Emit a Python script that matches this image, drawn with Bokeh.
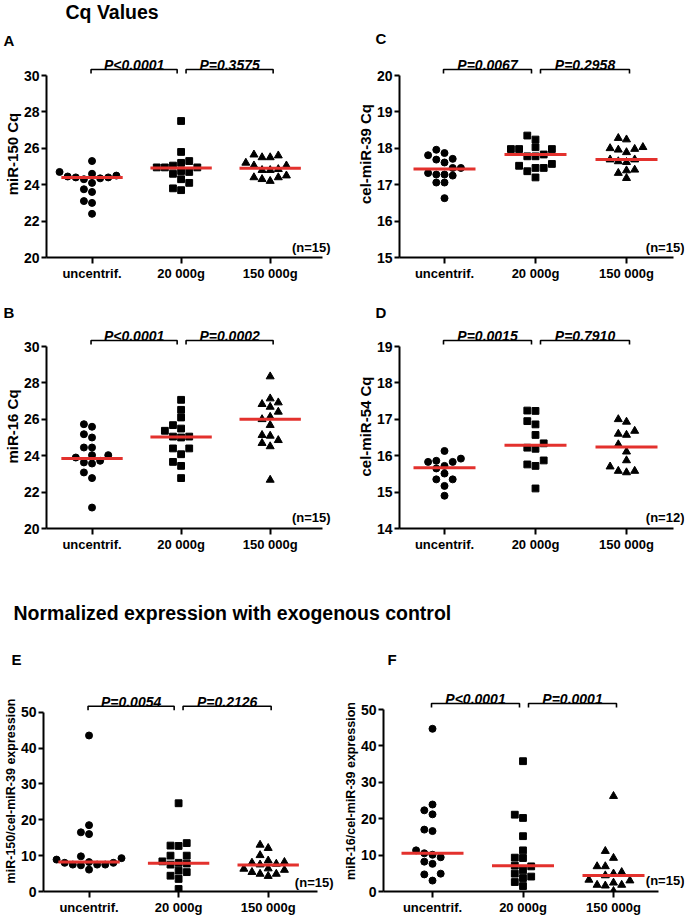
from bokeh.plotting import figure
from bokeh.layouts import column, row
from bokeh.models import Range1d, FixedTicker
from bokeh.core.properties import value
from bokeh.embed import file_html
from bokeh.resources import INLINE

FONT = "Liberation Sans"
RED = "#E3312D"

categories = ["uncentrif.", "20 000g", "150 000g"]
markers = ["circle", "square", "triangle"]
marker_sizes = [7.0, 6.8, 8.0]
section_titles = ["Cq Values", "Normalized expression with exogenous control"]
panel_letters = ["A", "B", "C", "D", "E", "F"]

# ---- Panel A : miR-150 Cq ----
a_unc = [25.3, 24.7, 24.6, 24.45, 24.4, 24.3, 24.1, 24.35, 24.4, 24.5, 23.75, 23.6, 23.1, 23.0, 22.4]
a_20k = [27.5, 25.8, 25.2, 25.3, 25.05, 24.75, 24.95, 24.95, 24.95, 24.7, 24.6, 24.3, 24.1, 23.8, 23.7]
a_150k = [25.2, 25.6, 25.5, 25.5, 25.65, 25.05, 25.05, 24.8, 24.8, 24.85, 24.5, 24.2, 24.4, 24.3, 24.4]
a_median = [24.4, 24.92, 24.9]
a_p = ["P<0.0001", "P=0.3575"]

# ---- Panel C : cel-miR-39 Cq ----
c_unc = [17.81, 17.87, 17.96, 17.69, 17.71, 17.61, 17.46, 17.46, 17.28, 17.32, 17.25, 17.28, 17.06, 17.06, 16.63]
c_20k = [18.35, 18.24, 17.98, 18.03, 17.98, 17.98, 17.83, 17.78, 17.78, 17.57, 17.52, 17.46, 17.46, 17.37, 17.2]
c_150k = [18.28, 18.24, 18.03, 17.98, 17.89, 17.96, 18.0, 17.64, 17.69, 17.62, 17.69, 17.41, 17.39, 17.32, 17.18]
c_median = [17.43, 17.83, 17.69]
c_p = ["P=0.0067", "P=0.2958"]

# ---- Panel B : miR-16 Cq ----
b_unc = [25.18, 25.59, 25.73, 25.0, 24.45, 24.45, 23.9, 24.03, 24.03, 23.63, 23.72, 23.57, 23.08, 22.77, 21.15]
b_20k = [27.07, 26.52, 26.1, 25.68, 25.49, 25.37, 25.0, 25.05, 25.05, 24.4, 24.4, 24.08, 23.66, 23.44, 22.77]
b_150k = [28.35, 27.14, 26.83, 26.92, 26.68, 26.41, 26.0, 26.13, 25.68, 25.13, 25.09, 24.85, 24.69, 24.51, 22.67]
b_median = [23.85, 25.03, 26.0]
b_p = ["P<0.0001", "P=0.0002"]

# ---- Panel D : cel-miR-54 Cq ----
d_unc = [15.92, 16.13, 15.83, 15.83, 15.86, 15.65, 15.51, 15.35, 15.35, 15.17, 14.9, 15.72]
d_20k = [17.24, 17.23, 16.95, 16.86, 16.57, 16.34, 16.19, 16.22, 15.76, 15.72, 15.87, 15.1]
d_150k = [16.93, 17.0, 16.6, 16.57, 16.68, 16.31, 16.11, 15.87, 15.7, 15.58, 15.54, 15.58]
d_median = [15.67, 16.29, 16.24]
d_p = ["P=0.0015", "P=0.7910"]

# ---- Panel E : miR-150/cel-miR-39 expression ----
e_unc = [43.5, 18.5, 16.0, 16.5, 9.3, 9.8, 8.9, 8.2, 7.5, 7.5, 8.0, 7.3, 7.5, 8.0, 6.1]
e_20k = [24.6, 13.5, 12.7, 12.8, 10.0, 10.0, 8.4, 7.5, 8.0, 7.8, 5.8, 5.4, 4.4, 3.5, 0.7]
e_150k = [13.0, 12.1, 10.1, 8.2, 7.7, 7.5, 8.0, 8.6, 6.4, 6.0, 4.9, 4.3, 4.9, 5.4, 6.3]
e_median = [8.2, 7.9, 7.4]
e_p = ["P=0.0054", "P=0.2126"]

# ---- Panel F : miR-16/cel-miR-39 expression ----
f_unc = [44.7, 23.9, 21.2, 22.3, 17.0, 16.6, 11.3, 10.1, 10.5, 9.4, 8.2, 7.6, 4.9, 4.7, 3.0]
f_20k = [35.8, 21.1, 20.2, 15.2, 11.3, 9.2, 9.3, 7.1, 6.9, 4.9, 3.7, 4.1, 5.8, 2.6, 1.5]
f_150k = [26.2, 11.1, 9.2, 6.9, 6.9, 5.3, 4.9, 4.4, 2.4, 3.2, 3.0, 1.6, 1.8, 1.8, 0.1]
f_median = [10.5, 7.1, 4.4]
f_p = ["P<0.0001", "P=0.0001"]

AXIS_H = 182.0  # pixel height of the y axis (bounds)
PAGE_W = 685


def swarm(vals, ppu_y, step_px=8.2, min_d=7.6):
    order = sorted(range(len(vals)), key=lambda i: vals[i])
    placed = []
    offs = [0.0] * len(vals)
    cands = [0]
    for m in range(1, 15):
        cands += [-m, m]
    for i in order:
        y = vals[i] * ppu_y
        xo = 0.0
        for c in cands:
            xo = c * step_px
            if all((xo - px) ** 2 + (y - py) ** 2 >= min_d ** 2 for px, py in placed):
                break
        placed.append((xo, y))
        offs[i] = xo
    return offs


def make_panel(box, cats_px, axis_end_px, n_right_px, n_above,
               groups, medians, pvals, ylabel, ylabel_size, y0, y1, ystep, n):
    W, H, L, R, T, B = box
    fw, fh = W - L - R, H - T - B
    ppu_x = (cats_px[2] - cats_px[0]) / 2.0
    ppu_y = AXIS_H / (y1 - y0)
    x_start = 1 - (cats_px[0] - L) / ppu_x
    x_end = x_start + fw / ppu_x
    y_end = y0 + fh / ppu_y

    def X(px):
        return x_start + (px - L) / ppu_x

    def Y(px_above):
        return y0 + px_above / ppu_y

    p = figure(width=W, height=H, x_range=Range1d(x_start, x_end), y_range=Range1d(y0, y_end),
               min_border_left=L, min_border_right=R, min_border_top=T, min_border_bottom=B,
               toolbar_location=None, output_backend="svg", title=None)
    p.outline_line_color = None
    p.grid.visible = False

    p.xaxis.ticker = FixedTicker(ticks=[1, 2, 3])
    p.xaxis.major_label_overrides = {i + 1: c for i, c in enumerate(categories)}
    p.xaxis.bounds = (x_start, X(axis_end_px))
    p.yaxis.ticker = FixedTicker(ticks=list(range(y0, y1 + 1, ystep)))
    p.yaxis.bounds = (y0, y1)
    for ax in (p.xaxis, p.yaxis):
        ax.axis_line_width = 2
        ax.axis_line_color = "black"
        ax.major_tick_line_width = 2
        ax.major_tick_line_color = "black"
        ax.minor_tick_line_color = None
        ax.major_tick_in = 0
        ax.major_label_text_font = FONT
        ax.major_label_text_font_style = "bold"
        ax.major_label_text_color = "black"
    p.xaxis.major_tick_out = 6
    p.xaxis.major_label_standoff = 2
    p.xaxis.major_label_text_font_size = "13px"
    p.yaxis.major_tick_out = 5
    p.yaxis.major_label_standoff = 2
    p.yaxis.major_label_text_font_size = "14px"
    p.yaxis.axis_label = ylabel
    p.yaxis.axis_label_text_font = FONT
    p.yaxis.axis_label_text_font_style = "bold"
    p.yaxis.axis_label_text_font_size = ylabel_size
    p.yaxis.axis_label_standoff = 0
    p.yaxis.axis_label_text_color = "black"

    for gi, vals in enumerate(groups):
        offs = swarm(vals, ppu_y)
        xs = [gi + 1 + o / ppu_x for o in offs]
        p.scatter(xs, vals, marker=markers[gi], size=marker_sizes[gi], color="black")

    hw = 31.0 / ppu_x
    p.segment(x0=[i + 1 - hw for i in range(3)], y0=medians,
              x1=[i + 1 + hw for i in range(3)], y1=medians, line_color=RED, line_width=3)

    top = Y(AXIS_H + 6)
    low = Y(AXIS_H + 2)
    b1 = (X(cats_px[0] - 1), X(cats_px[1] - 4))
    b2 = (X(cats_px[1] + 5), X(cats_px[2] + 3))
    p.multi_line(xs=[[b1[0], b1[0], b1[1], b1[1]], [b2[0], b2[0], b2[1], b2[1]]],
                 ys=[[low, top, top, low], [low, top, top, low]], line_color="black", line_width=1.6)
    p.text(x=[(b1[0] + b1[1]) / 2, (b2[0] + b2[1]) / 2], y=[Y(AXIS_H + 10.5)] * 2, text=pvals,
           text_align="center", text_baseline="alphabetic", text_font=value(FONT),
           text_font_size="14px", text_font_style="bold italic", text_color="black")

    p.text(x=[X(n_right_px)], y=[Y(n_above)], text=["(n=%d)" % n], text_align="right",
           text_baseline="middle", text_font=value(FONT), text_font_size="13px",
           text_font_style="bold", text_color="black")
    return p


def make_header(H, items):
    p = figure(width=PAGE_W, height=H, x_range=Range1d(0, PAGE_W), y_range=Range1d(H, 0),
               min_border=0, toolbar_location=None, output_backend="svg", title=None,
               x_axis_location=None, y_axis_location=None)
    p.outline_line_color = None
    p.grid.visible = False
    for txt, x, y, size in items:
        p.text(x=[x], y=[y], text=[txt], text_align="left", text_baseline="middle",
               text_font=value(FONT), text_font_size=size, text_font_style="bold", text_color="black")
    return p


h1 = make_header(48, [(section_titles[0], 65, 11, "19.5px"),
                      (panel_letters[0], 3, 40, "15px"), (panel_letters[2], 375, 38, "15px")])
pA = make_panel((340, 242, 43, 5, 2, 33), [89, 179, 269], 322, 330, 10,
                [a_unc, a_20k, a_150k], a_median, a_p, "miR-150 Cq", "15px", 20, 30, 2, 15)
pC = make_panel((345, 242, 59, 1, 2, 33), [104, 195, 286], 333, 344, 10,
                [c_unc, c_20k, c_150k], c_median, c_p, "cel-miR-39 Cq", "15px", 15, 20, 1, 15)
h2 = make_header(32, [(panel_letters[1], 3, 22, "15px"), (panel_letters[3], 375, 22, "15px")])
pB = make_panel((340, 248, 43, 5, 2, 42), [89, 179, 269], 322, 330, 11,
                [b_unc, b_20k, b_150k], b_median, b_p, "miR-16 Cq", "15px", 20, 30, 2, 15)
pD = make_panel((345, 248, 59, 1, 2, 42), [104, 195, 286], 333, 344, 11,
                [d_unc, d_20k, d_150k], d_median, d_p, "cel-miR-54 Cq", "15px", 14, 19, 1, 12)
h3 = make_header(118, [(section_titles[1], 13, 42, "19.5px"),
                       (panel_letters[4], 11, 89, "15px"), (panel_letters[5], 387, 89, "15px")])
pE = make_panel((340, 232, 40, 5, 2, 26), [86, 176, 267], 317, 333, 9,
                [e_unc, e_20k, e_150k], e_median, e_p, "miR-150/cel-miR-39 expression", "12.5px",
                0, 50, 10, 15)
pF = make_panel((345, 232, 43, 1, 2, 29), [92, 183, 273], 318, 344, 11,
                [f_unc, f_20k, f_150k], f_median, f_p, "miR-16/cel-miR-39 expression", "12.5px",
                0, 50, 10, 15)

layout = column(h1, row(pA, pC), h2, row(pB, pD), h3, row(pE, pF))

open("out.html", "w").write(file_html(layout, INLINE))
